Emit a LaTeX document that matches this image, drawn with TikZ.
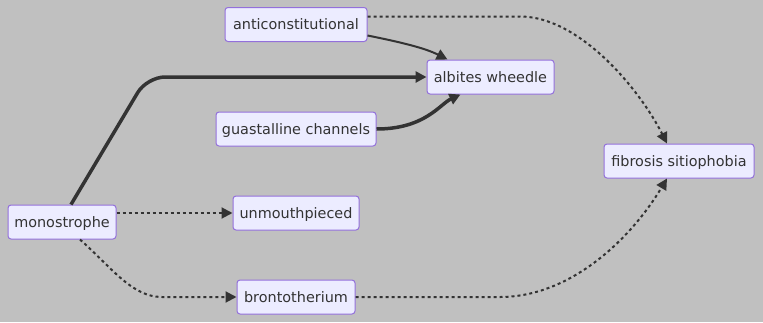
\documentclass[tikz,border=0pt]{standalone}
\usepackage{fontspec}
\setmainfont{DejaVu Sans}
\usetikzlibrary{arrows.meta}
\definecolor{bg}{HTML}{C0C0C0}
\definecolor{boxfill}{HTML}{ECECFF}
\definecolor{boxline}{HTML}{9370DB}
\definecolor{ink}{HTML}{333333}
\tikzset{
  box/.style={draw=boxline, fill=boxfill, line width=1pt, rounded corners=3pt,
    text=ink, font=\fontsize{14.4}{16}\selectfont, minimum height=34pt,
    text height=11pt, text depth=1pt, inner sep=0pt, anchor=center},
  link/.style={draw=ink, line width=2pt, -{Triangle[length=11pt,width=11pt]}},
  heavy/.style={link, line width=3.5pt},
  dotlink/.style={link, dash pattern=on 3pt off 3pt},
}
\begin{document}
\begin{tikzpicture}[x=1pt, y=-1pt]
  \fill[bg] (0,0) rectangle (763,322);
  \useasboundingbox (0,0) rectangle (763,322);

  % nodes
  \node[box, minimum width=142pt] (anti) at (296,24.5) {anticonstitutional};
  \node[box, minimum width=127pt] (alb) at (490.5,77) {albites wheedle};
  \node[box, minimum width=160pt] (gua) at (296,129) {guastalline channels};
  \node[box, minimum width=150pt] (fib) at (679,161) {fibrosis sitiophobia};
  \node[box, minimum width=108pt] (mono) at (62,222) {monostrophe};
  \node[box, minimum width=126pt] (unm) at (296,213) {unmouthpieced};
  \node[box, minimum width=118pt] (bro) at (296,297) {brontotherium};

  % solid links into albites wheedle
  \draw[link] ([yshift=-11pt]anti.east) .. controls (400,42) and (425,48) .. ([xshift=-43pt]alb.north);
  \draw[heavy, rounded corners=18pt] ([xshift=9pt]mono.north) -- (147,77) -- (alb.west);
  \draw[heavy] (gua.east) .. controls (425,129) and (440,104) .. ([xshift=-30pt]alb.south);

  % dotted links
  \draw[dotlink] ([yshift=8pt]anti.east) -- (520,16.5) .. controls (580,16.5) and (640,90) .. ([xshift=-12pt]fib.north);
  \draw[dotlink] ([yshift=9pt]mono.east) -- (unm.west);
  \draw[dotlink] ([xshift=18pt]mono.south) .. controls (112,268) and (132,297) .. (162,297) -- (bro.west);
  \draw[dotlink] (bro.east) -- (500,297) .. controls (570,297) and (630,240) .. ([xshift=-12pt]fib.south);
\end{tikzpicture}
\end{document}
